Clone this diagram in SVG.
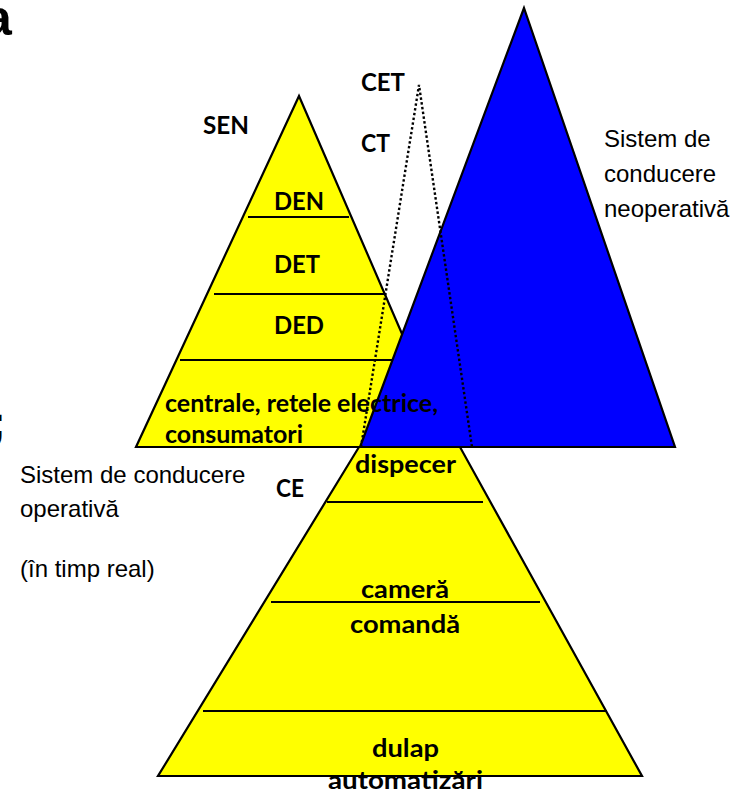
<svg xmlns="http://www.w3.org/2000/svg" width="742" height="794" viewBox="0 0 742 794">
  <style>
    .yel { fill: #FFFF00; stroke: #000; stroke-width: 2.2; stroke-linejoin: miter; }
    .blu { fill: #0000FF; stroke: #000; stroke-width: 2.2; stroke-linejoin: miter; }
    .lvl { stroke: #000; stroke-width: 2.2; fill: none; }
    .dot { stroke: #000; stroke-width: 2.4; stroke-dasharray: 2.4 2.4; fill: none; }
    .b { font-family: Lato, "Open Sans", sans-serif; font-weight: bold; font-size: 24px; fill: #000; }
    .r { font-family: "Liberation Sans", Arial, sans-serif; font-size: 24px; fill: #000; }
    .big { font-family: "Liberation Sans", Arial, sans-serif; font-weight: bold; font-size: 50px; fill: #000; }
  </style>
  <rect width="742" height="794" fill="#fff"/>

  <!-- title glyphs running off the left edge -->
  <text class="big" x="-16" y="35">a</text>
  <text class="big" x="-9" y="437" style="font-size:44px">;</text>

  <!-- CE pyramid (power plant control levels) -->
  <g id="ce">
    <polygon class="yel" points="359,447 460,447 642,776 158,776"/>
    <line class="lvl" x1="327" y1="502" x2="483" y2="502"/>
    <line class="lvl" x1="271" y1="602" x2="540" y2="602"/>
    <line class="lvl" x1="203" y1="711" x2="607" y2="711"/>
  </g>

  <!-- SEN pyramid (national power system dispatch levels) -->
  <g id="sen">
    <polygon class="yel" points="299,96 136,447 451,447"/>
    <line class="lvl" x1="248" y1="217" x2="349" y2="217"/>
    <line class="lvl" x1="214" y1="294" x2="384" y2="294"/>
    <line class="lvl" x1="180" y1="360" x2="413" y2="360"/>
  </g>

  <!-- non-operative control system -->
  <g id="neoperativ">
    <polygon class="blu" points="524,8 360,447 675,447"/>
  </g>

  <!-- shared base line -->
  <line class="lvl" x1="136" y1="447" x2="675" y2="447"/>

  <!-- labels of the SEN pyramid -->
  <g id="sen-labels">
    <text class="b" x="203" y="134" textLength="46" lengthAdjust="spacingAndGlyphs">SEN</text>
    <text class="b" x="274" y="210" textLength="50" lengthAdjust="spacingAndGlyphs">DEN</text>
    <text class="b" x="274" y="273" textLength="46" lengthAdjust="spacingAndGlyphs">DET</text>
    <text class="b" x="274" y="334" textLength="50" lengthAdjust="spacingAndGlyphs">DED</text>
    <text class="b" x="165" y="412" textLength="273" lengthAdjust="spacingAndGlyphs">centrale, retele electrice,</text>
    <text class="b" x="165" y="443" textLength="138" lengthAdjust="spacingAndGlyphs">consumatori</text>
  </g>

  <!-- CET / CT labels -->
  <g id="cet">
    <text class="b" x="361" y="91" textLength="44" lengthAdjust="spacingAndGlyphs">CET</text>
    <text class="b" x="361" y="152" textLength="29" lengthAdjust="spacingAndGlyphs">CT</text>
  </g>

  <!-- dotted outline of the thermal plant pyramid -->
  <g id="connectors">
    <polyline class="dot" points="361,447 419,85 472,447"/>
  </g>

  <!-- labels of the CE pyramid -->
  <g id="ce-labels">
    <text class="b" x="276" y="497" textLength="28" lengthAdjust="spacingAndGlyphs">CE</text>
    <text class="b" x="355" y="473" textLength="101" lengthAdjust="spacingAndGlyphs">dispecer</text>
    <text class="b" x="361" y="598" textLength="88" lengthAdjust="spacingAndGlyphs">cameră</text>
    <text class="b" x="350" y="633" textLength="110" lengthAdjust="spacingAndGlyphs">comandă</text>
    <text class="b" x="372" y="757" textLength="67" lengthAdjust="spacingAndGlyphs">dulap</text>
    <text class="b" x="328" y="789" textLength="155" lengthAdjust="spacingAndGlyphs">automatizări</text>
  </g>

  <!-- side captions -->
  <g id="caption-neoperativ">
    <text class="r" x="604" y="147">Sistem de</text>
    <text class="r" x="604" y="182">conducere</text>
    <text class="r" x="604" y="217">neoperativă</text>
  </g>
  <g id="caption-operativ">
    <text class="r" x="20" y="483">Sistem de conducere</text>
    <text class="r" x="20" y="517">operativă</text>
    <text class="r" x="20" y="577">(în timp real)</text>
  </g>
</svg>
